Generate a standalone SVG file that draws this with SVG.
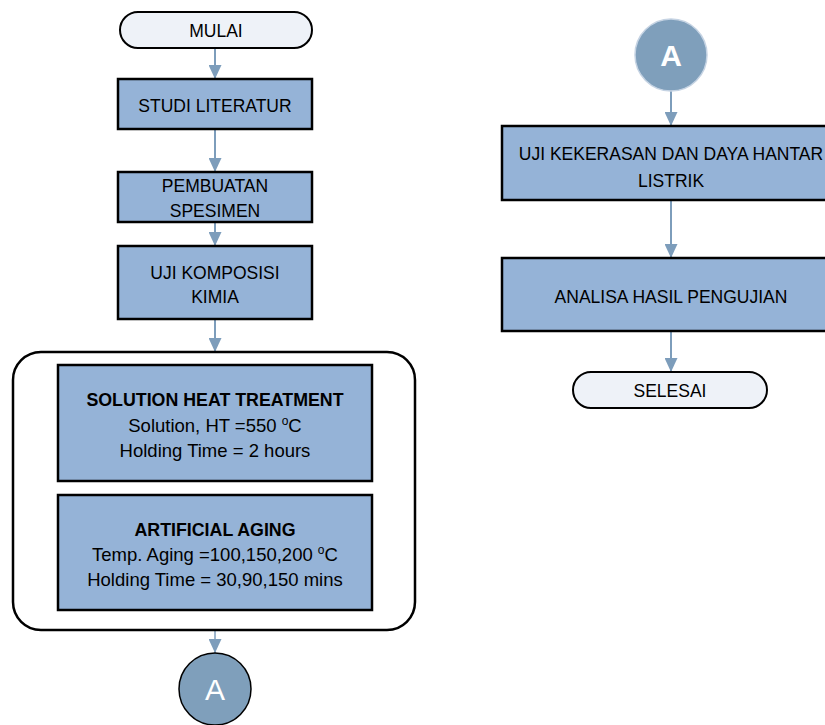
<svg xmlns="http://www.w3.org/2000/svg" width="825" height="725" viewBox="0 0 825 725">
<defs>
<marker id="ah" markerWidth="14" markerHeight="13" refX="14" refY="6.5" orient="auto" markerUnits="userSpaceOnUse">
<path d="M0,0 L14,6.5 L0,13 Z" fill="#7d9dbb"/>
</marker>
<style>
.box{fill:#95b3d7;stroke:#000;stroke-width:2.5}
.term{fill:#eef2f8;stroke:#000;stroke-width:2}
.t{font-family:"Liberation Sans",Arial,sans-serif;font-size:17.5px;fill:#000;text-anchor:middle}
.b{font-weight:bold}
.s{font-size:18.5px}
.con{stroke:#7d9dbb;stroke-width:2;fill:none}
.circ{fill:#7f9fbb}
.ct{font-family:"Liberation Sans",Arial,sans-serif;font-size:30px;fill:#fff;text-anchor:middle}
</style>
</defs>
<rect width="825" height="725" fill="#fff"/>
<g id="connectors">
<line class="con" x1="215" y1="48" x2="215" y2="79" marker-end="url(#ah)"/>
<line class="con" x1="215" y1="129" x2="215" y2="172" marker-end="url(#ah)"/>
<line class="con" x1="215" y1="222" x2="215" y2="246" marker-end="url(#ah)"/>
<line class="con" x1="215" y1="319" x2="215" y2="352" marker-end="url(#ah)"/>
<line class="con" x1="215" y1="610" x2="215" y2="653" marker-end="url(#ah)" style="stroke-width:1.5"/>
<line class="con" x1="671" y1="91" x2="671" y2="126" marker-end="url(#ah)"/>
<line class="con" x1="671" y1="200" x2="671" y2="258" marker-end="url(#ah)"/>
<line class="con" x1="671" y1="331" x2="671" y2="372" marker-end="url(#ah)"/>
</g>
<g id="mulai">
<rect class="term" x="120" y="12" width="192" height="36" rx="18"/>
<text class="t" x="216" y="37">MULAI</text>
</g>
<g id="studi">
<rect class="box" x="118" y="79" width="194" height="50"/>
<text class="t" x="215" y="112">STUDI LITERATUR</text>
</g>
<g id="pembuatan">
<rect class="box" x="118" y="172" width="194" height="50"/>
<text class="t" x="215" y="192">PEMBUATAN</text>
<text class="t" x="215" y="217">SPESIMEN</text>
</g>
<g id="komposisi">
<rect class="box" x="118" y="246" width="194" height="73"/>
<text class="t" x="215" y="279">UJI KOMPOSISI</text>
<text class="t" x="215" y="303">KIMIA</text>
</g>
<g id="heattreat">
<rect x="13" y="352" width="402" height="278" rx="28" fill="#fff" stroke="#000" stroke-width="2.5"/>
</g>
<g id="sht">
<rect class="box" x="58" y="365" width="314" height="116"/>
<text class="t b" x="215" y="406" style="font-size:17.8px">SOLUTION HEAT TREATMENT</text>
<text class="t s" x="215" y="432">Solution, HT =550 <tspan dy="-7" style="font-size:12px">o</tspan><tspan dy="7">C</tspan></text>
<text class="t s" x="215" y="457">Holding Time = 2 hours</text>
</g>
<g id="aging">
<rect class="box" x="58" y="495" width="314" height="115"/>
<text class="t b" x="215" y="536" style="font-size:17.8px">ARTIFICIAL AGING</text>
<text class="t s" x="215" y="561">Temp. Aging =100,150,200 <tspan dy="-7" style="font-size:12px">o</tspan><tspan dy="7">C</tspan></text>
<text class="t s" x="215" y="586">Holding Time = 30,90,150 mins</text>
</g>
<g id="connA1">
<circle class="circ" cx="215" cy="689" r="36" stroke="#000" stroke-width="1.5"/>
<text class="ct" x="215" y="700">A</text>
</g>
<g id="connA2">
<circle class="circ" cx="671" cy="55" r="36" stroke="#c5d3e3" stroke-width="1.5"/>
<text class="ct b" x="671" y="66">A</text>
</g>
<g id="kekerasan">
<rect class="box" x="502" y="126" width="340" height="74"/>
<text class="t" x="671" y="160">UJI KEKERASAN DAN DAYA HANTAR</text>
<text class="t" x="671" y="187">LISTRIK</text>
</g>
<g id="analisa">
<rect class="box" x="502" y="258" width="340" height="73"/>
<text class="t" x="671" y="303">ANALISA HASIL PENGUJIAN</text>
</g>
<g id="selesai">
<rect class="term" x="573" y="372" width="194" height="36" rx="18"/>
<text class="t" x="670" y="397">SELESAI</text>
</g>
</svg>
